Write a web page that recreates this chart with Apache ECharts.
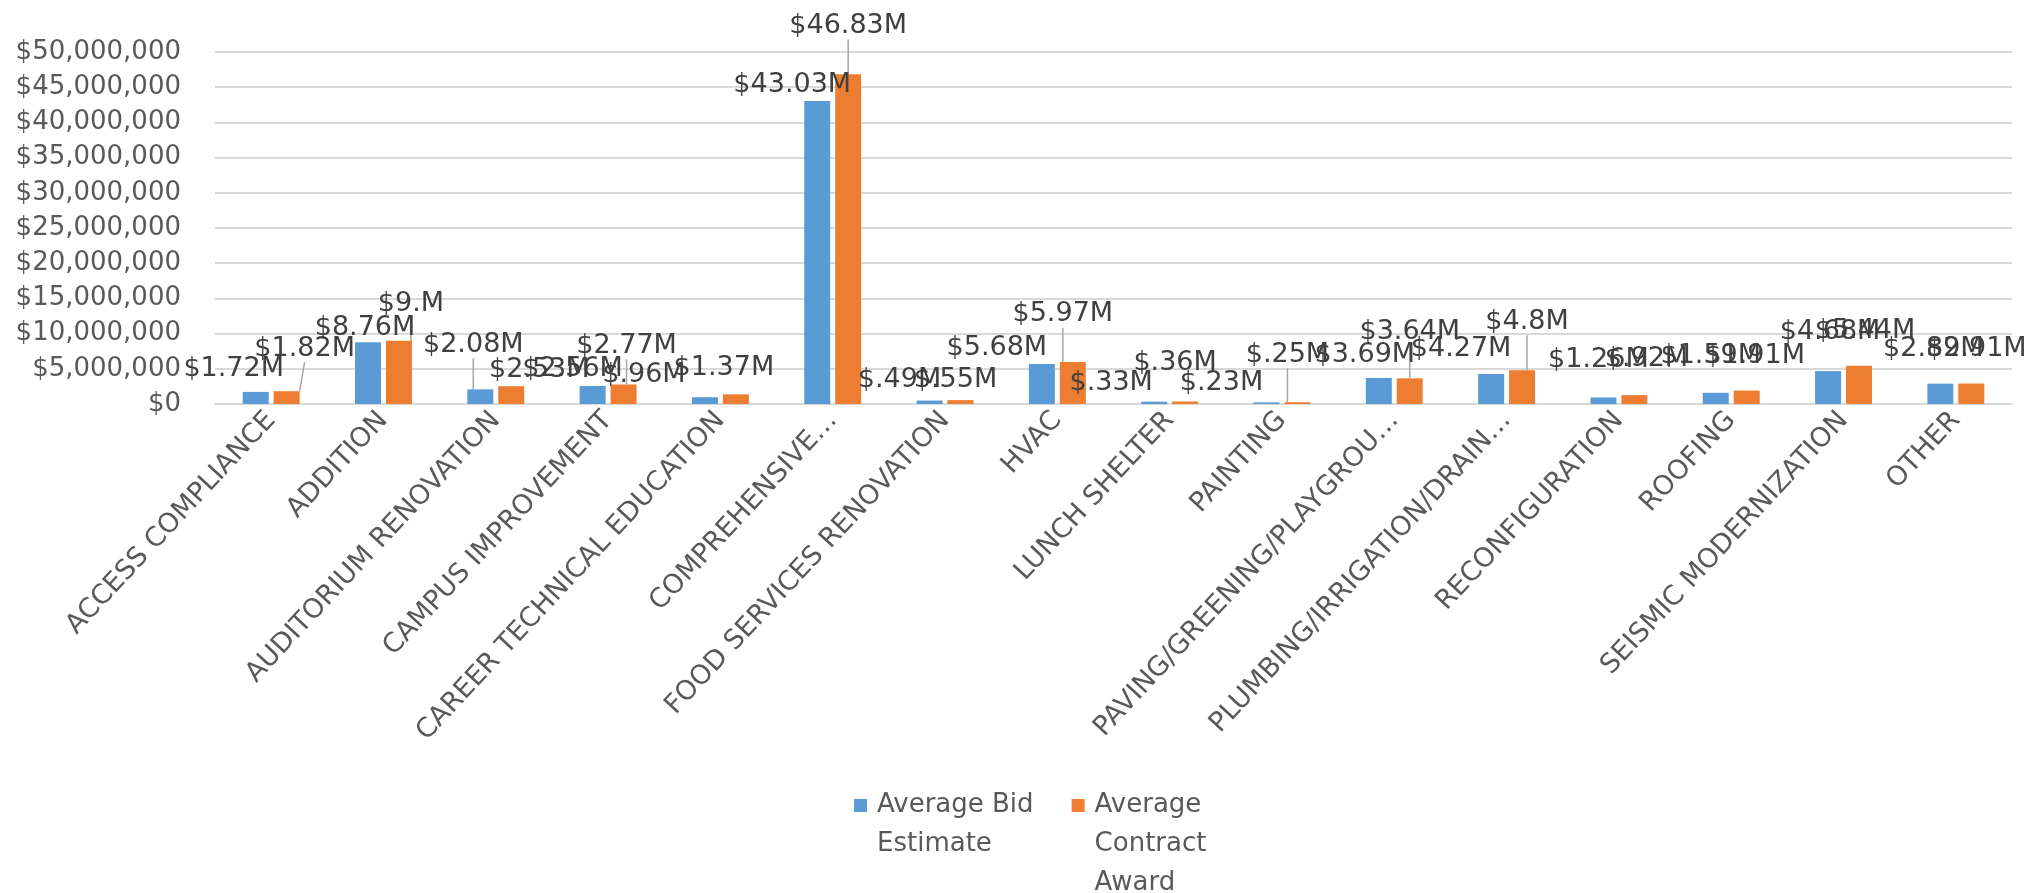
<!DOCTYPE html>
<html><head><meta charset="utf-8">
<script src="https://cdn.jsdelivr.net/npm/echarts@6/dist/echarts.min.js"></script>
<style>html,body{margin:0;padding:0;background:#fff}#c{width:2026px;height:893px}</style>
</head><body><div id="c"></div>
<script>
// ---- data (values in $ millions) ----
const categories = ["ACCESS COMPLIANCE","ADDITION","AUDITORIUM RENOVATION","CAMPUS IMPROVEMENT","CAREER TECHNICAL EDUCATION","COMPREHENSIVE…","FOOD SERVICES RENOVATION","HVAC","LUNCH SHELTER","PAINTING","PAVING/GREENING/PLAYGROU…","PLUMBING/IRRIGATION/DRAIN…","RECONFIGURATION","ROOFING","SEISMIC MODERNIZATION","OTHER"];
const bidEstimate   = [1.72, 8.76, 2.08, 2.56, 0.96, 43.03, 0.49, 5.68, 0.33, 0.23, 3.69, 4.27, 0.92, 1.59, 4.68, 2.89];
const contractAward = [1.82, 9.00, 2.53, 2.77, 1.37, 46.83, 0.55, 5.97, 0.36, 0.25, 3.64, 4.80, 1.26, 1.91, 5.44, 2.91];
const seriesNames = ["Average Bid Estimate", "Average Contract Award"];
const yMin = 0, yMax = 50, yStep = 5; // $ millions

// ---- label placement (style only) ----
const bidNudge   = [[-22,-4],[-3,4],[-7,-26],[-20,2],[-61,-4],[-25,2],[-30,-2],[-45,2],[-43,0],[-45,-1],[-14,-5],[-30,-6],[43,-20],[-5,-18],[2,-21],[-7,-16]];
const awardNudge = [[18,-24],[12,-18],[28,2],[3,-20],[-12,-8],[0,-30],[-5,-2],[-10,-29],[-10,-20],[-10,-29],[0,-28],[5,-30],[-36,-17],[8,-16],[6,-16],[5,-16]];
const bidLeader   = [2];
const awardLeader = [0,1,3,5,7,9,10,11];
// legend text: leading blank lines keep the first line level with the swatch
const legendText = {"Average Bid Estimate": " \nAverage Bid\nEstimate", "Average Contract Award": " \n \nAverage\nContract\nAward"};

const FONT = 'DejaVu Sans';
function fmtM(v){
  let s = v.toFixed(2).replace(/0+$/,'');
  if (s.startsWith('0.')) s = s.slice(1);
  return '$' + s + 'M';
}
function items(vals, leaders){
  return vals.map((v,i)=>({value:v, labelLine:{show: leaders.indexOf(i) >= 0}}));
}
const L = 39;
const chart = echarts.init(document.getElementById('c'));
chart.setOption({
  animation: false,
  textStyle: {fontFamily: FONT},
  grid: {left: 215, right: 14, top: 52, bottom: 489, outerBoundsMode: 'none', containLabel: false},
  legend: {
    left: 849, top: 703, itemWidth: 13, itemHeight: 13, itemGap: 38,
    icon: 'rect',
    data: seriesNames,
    formatter: n => legendText[n],
    textStyle: {fontFamily: FONT, fontSize: 26, color: '#595959', lineHeight: L, padding: [0, 0, 0, 5]}
  },
  xAxis: {
    type: 'category', data: categories,
    axisLine: {lineStyle: {color: '#D9D9D9', width: 2}},
    axisTick: {show: false},
    axisLabel: {interval: 0, rotate: 47, fontSize: 27, color: '#595959', margin: 12, fontFamily: FONT}
  },
  yAxis: {
    type: 'value', min: yMin, max: yMax, interval: yStep,
    axisLine: {show: false}, axisTick: {show: false},
    splitLine: {lineStyle: {color: '#D9D9D9', width: 2}},
    axisLabel: {fontSize: 26, color: '#595959', margin: 34, fontFamily: FONT,
      formatter: v => '$' + Math.round(v*1e6).toLocaleString('en-US')}
  },
  series: [
    {
      name: seriesNames[0], type: 'bar', data: items(bidEstimate, bidLeader),
      barWidth: 26, barGap: '19%', itemStyle: {color: '#5B9BD5'},
      label: {show: true, position: 'top', fontSize: 27, color: '#404040', fontFamily: FONT, formatter: p => fmtM(p.value)},
      labelLine: {lineStyle: {color: '#A6A6A6', width: 1.5}},
      labelLayout: p => ({dx: bidNudge[p.dataIndex][0], dy: bidNudge[p.dataIndex][1]})
    },
    {
      name: seriesNames[1], type: 'bar', data: items(contractAward, awardLeader),
      barWidth: 26, barGap: '19%', itemStyle: {color: '#ED7D31'},
      label: {show: true, position: 'top', fontSize: 27, color: '#404040', fontFamily: FONT, formatter: p => fmtM(p.value)},
      labelLine: {lineStyle: {color: '#A6A6A6', width: 1.5}},
      labelLayout: p => ({dx: awardNudge[p.dataIndex][0], dy: awardNudge[p.dataIndex][1]})
    }
  ]
});
</script></body></html>
